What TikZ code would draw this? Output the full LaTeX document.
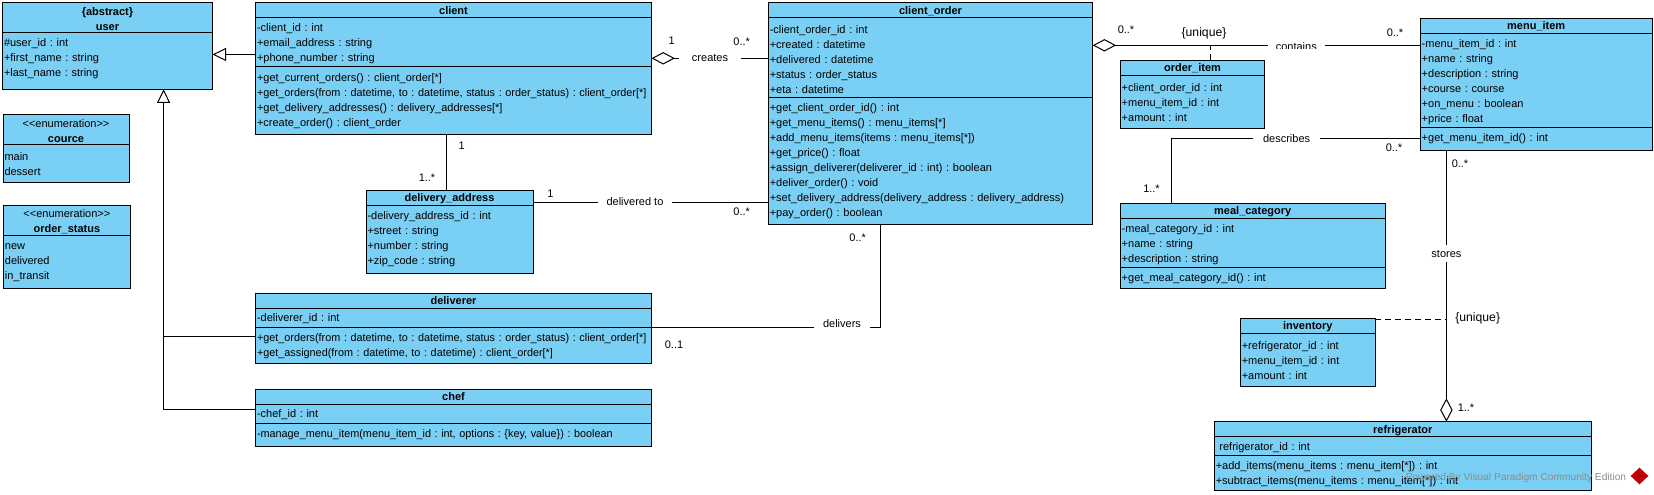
\documentclass[tikz,border=0pt]{standalone}
\usepackage{fontspec}
\usepackage{graphicx}
\setmainfont{Liberation Sans}
\usetikzlibrary{positioning}
\usetikzlibrary{arrows.meta}
\usetikzlibrary{shapes.geometric}
\definecolor{classblue}{HTML}{7ACFF5}
\newcommand{\rowstrut}{\rule[-1.75pt]{0pt}{7.5pt}}
\newcommand{\rowpad}[1]{\par\vspace{#1}\hrule height 0pt}
\newcommand{\tightrow}[1]{\scalebox{0.985}[1]{#1}}
\tikzset{
  classtitle/.style={rectangle,fill=classblue,draw=black,line width=0.5pt,outer sep=0pt,
    inner sep=0pt,anchor=north west,minimum width=#1,text width=#1,align=center,
    font=\fontsize{5.5}{7.5}\selectfont\frenchspacing,execute at begin node=\rowstrut},
  classrows/.style={rectangle,fill=classblue,draw=black,line width=0.5pt,outer sep=0pt,
    inner xsep=0.75pt,inner ysep=0pt,minimum width=#1,text width=#1-1.5pt,align=left,
    font=\fontsize{5.5}{7.5}\selectfont\frenchspacing,execute at begin node=\rowstrut},
  assoc/.style={inner xsep=4.5pt,inner ysep=0pt,minimum height=8pt,font=\fontsize{5.5}{7.5}\selectfont},
  mult/.style={inner sep=0pt,font=\fontsize{5.5}{7.5}\selectfont},
  constraint/.style={inner sep=0pt,font=\fontsize{6.1}{7.5}\selectfont},
  line/.style={line width=0.5pt,draw=black},
  generalize/.style={line,-{Triangle[open,length=6.75pt,width=6.5pt]}},
  aggregate/.style={line,-{Diamond[open,length=11.7pt,width=6.2pt]}},
  attached/.style={line,dash pattern=on 3pt off 2pt},
}
\begin{document}
\begin{tikzpicture}[x=0.5pt,y=-0.5pt]
\useasboundingbox (0,0) rectangle (1654,494);

% left column
\node[classtitle=105pt,minimum height=15pt] (user) at (2.5,2.3) {\textbf{\{abstract\}}\\\textbf{user}};
\node[classrows=105pt,minimum height=28.5pt,below=0pt of user] (userattr) {\#user\_id : int\\+first\_name : string\\+last\_name : string\rowpad{3.5pt}};

\node[classtitle=63pt,minimum height=15.2pt] (cource) at (3,114) {<{}<enumeration>{}>\\\textbf{cource}};
\node[classrows=63pt,minimum height=18.8pt,below=0pt of cource] (courceattr) {main\\dessert\rowpad{1.3pt}};

\node[classtitle=63.5pt,minimum height=15pt] (orderstatus) at (3.4,205) {<{}<enumeration>{}>\\\textbf{order\_status}};
\node[classrows=63.5pt,minimum height=26.7pt,below=0pt of orderstatus] (orderstatusattr) {new\\delivered\\in\_transit\rowpad{1.6pt}};

% client side
\node[classtitle=198pt,minimum height=7.5pt] (client) at (255.5,2.7) {\textbf{client}};
\node[classrows=198pt,minimum height=24.35pt,below=0pt of client] (clientattr) {-client\_id : int\\+email\_address : string\\+phone\_number : string};
\node[classrows=198pt,minimum height=33.85pt,below=0pt of clientattr] (clientop) {+get\_current\_orders() : client\_order[*]\\\tightrow{+get\_orders(from : datetime, to : datetime, status : order\_status) : client\_order[*]}\\+get\_delivery\_addresses() : delivery\_addresses[*]\\+create\_order() : client\_order\rowpad{1pt}};

\node[classtitle=83.5pt,minimum height=7.5pt] (address) at (366,190) {\textbf{delivery\_address}};
\node[classrows=83.5pt,minimum height=34pt,below=0pt of address] (addressattr) {-delivery\_address\_id : int\\+street : string\\+number : string\\+zip\_code : string\rowpad{1.5pt}};

\node[classtitle=198pt,minimum height=7.5pt] (deliverer) at (255.5,293.3) {\textbf{deliverer}};
\node[classrows=198pt,minimum height=9.5pt,below=0pt of deliverer] (delivererattr) {-deliverer\_id : int};
\node[classrows=198pt,minimum height=18pt,below=0pt of delivererattr] (delivererop) {\tightrow{+get\_orders(from : datetime, to : datetime, status : order\_status) : client\_order[*]}\\\tightrow{+get\_assigned(from : datetime, to : datetime) : client\_order[*]}\rowpad{0.5pt}};

\node[classtitle=198pt,minimum height=7.5pt] (chef) at (255.5,389.3) {\textbf{chef}};
\node[classrows=198pt,minimum height=9.5pt,below=0pt of chef] (chefattr) {-chef\_id : int};
\node[classrows=198pt,minimum height=11.5pt,below=0pt of chefattr] (chefop) {\tightrow{-manage\_menu\_item(menu\_item\_id : int, options : \{key, value\}) : boolean}\rowpad{1.5pt}};

% order in the middle
\node[classtitle=162.2pt,minimum height=7.5pt] (order) at (768.3,2.7) {\textbf{client\_order}};
\node[classrows=162.2pt,minimum height=39.7pt,below=0pt of order] (orderattr) {-client\_order\_id : int\\+created : datetime\\+delivered : datetime\\+status : order\_status\\+eta : datetime};
\node[classrows=162.2pt,minimum height=63.8pt,below=0pt of orderattr] (orderop) {+get\_client\_order\_id() : int\\+get\_menu\_items() : menu\_items[*]\\+add\_menu\_items(items : menu\_items[*])\\+get\_price() : float\\+assign\_deliverer(deliverer\_id : int) : boolean\\+deliver\_order() : void\\+set\_delivery\_address(delivery\_address : delivery\_address)\\+pay\_order() : boolean\rowpad{1.6pt}};

% right side
\node[classtitle=72.3pt,minimum height=7.5pt] (orderitem) at (1120.2,60.3) {\textbf{order\_item}};
\node[classrows=72.3pt,minimum height=26.5pt,below=0pt of orderitem] (orderitemattr) {+client\_order\_id : int\\+menu\_item\_id : int\\+amount : int\rowpad{1.5pt}};

\node[classtitle=116pt,minimum height=7.5pt] (menu) at (1420.2,18.3) {\textbf{menu\_item}};
\node[classrows=116pt,minimum height=47pt,below=0pt of menu] (menuattr) {-menu\_item\_id : int\\+name : string\\+description : string\\+course : course\\+on\_menu : boolean\\+price : float};
\node[classrows=116pt,minimum height=11.5pt,below=0pt of menuattr] (menuop) {+get\_menu\_item\_id() : int\rowpad{1.5pt}};

\node[classtitle=132.5pt,minimum height=7.5pt] (category) at (1120.2,203.3) {\textbf{meal\_category}};
\node[classrows=132.5pt,minimum height=24.5pt,below=0pt of category] (categoryattr) {-meal\_category\_id : int\\+name : string\\+description : string};
\node[classrows=132.5pt,minimum height=10.5pt,below=0pt of categoryattr] (categoryop) {+get\_meal\_category\_id() : int\rowpad{0.5pt}};

\node[classtitle=67.5pt,minimum height=7.5pt] (inventory) at (1240.3,318.3) {\textbf{inventory}};
\node[classrows=67.5pt,minimum height=26.5pt,below=0pt of inventory] (inventoryattr) {+refrigerator\_id : int\\+menu\_item\_id : int\\+amount : int\rowpad{1.5pt}};

\node[classtitle=188.5pt,minimum height=7.5pt] (fridge) at (1214.3,421.7) {\textbf{refrigerator}};
\node[classrows=188.5pt,minimum height=9.3pt,below=0pt of fridge] (fridgeattr) {\hspace{1.8pt}refrigerator\_id : int};
\node[classrows=188.5pt,minimum height=17.5pt,below=0pt of fridgeattr] (fridgeop) {+add\_items(menu\_items : menu\_item[*]) : int\\+subtract\_items(menu\_items : menu\_item[*]) : int};

% association names
\node[assoc,inner xsep=6.5pt] (creates) at (710,58.3) {creates};
\node[assoc,inner xsep=4pt] (deliveredto) at (635,202) {delivered to};
\node[assoc,text depth=3.3pt] (delivers) at (842,327.3) {delivers};
\node[assoc,inner xsep=4.7pt] (describes) at (1286.6,138.3) {describes};
\node[assoc,inner xsep=0pt] (stores) at (1446.4,253.7) {stores};
\begin{scope}
\clip (1260,30) rectangle (1335,48.3);
\node[assoc,inner xsep=3.75pt,text height=5.7pt] (contains) at (1296.3,45.3) {contains};
\end{scope}

% connectors
\coordinate (clientport) at ([yshift=-6.2pt]clientattr.west);
\draw[generalize] (clientport) -- (clientport -| userattr.east);
\coordinate (usertip) at ([xshift=28.05pt]userattr.south);
\coordinate (chefport) at ([yshift=2.25pt]chefattr.west);
\coordinate (delivererport) at ([yshift=4.5pt]delivererop.west);
\draw[generalize] (chefport) -| (usertip);
\draw[line] (delivererport) -- (delivererport -| usertip);

\draw[aggregate] (creates) -- (clientattr.east |- creates);
\draw[line] (creates) -- (orderattr.west |- creates);

\coordinate (addresstop) at ([xshift=-1.5pt]address.north);
\draw[line] (clientop.south -| addresstop) -- (addresstop);
\draw[line] (addressattr.east |- deliveredto) -- (deliveredto);
\draw[line] (deliveredto) -- (orderop.west |- deliveredto);

\coordinate (orderfoot) at ([xshift=-25.05pt]orderop.south);
\draw[line] (delivererop.north east) -- (delivers);
\draw[line] (delivers) -| (orderfoot);

\coordinate (containsline) at (orderattr.east |- contains);
\draw[aggregate] (contains) -- (containsline);
\draw[line] (contains) -- (menuattr.west |- contains);
\coordinate (orderitemtop) at ([xshift=9.05pt]orderitem.north);
\draw[attached] (orderitemtop) -- (orderitemtop |- contains);

\coordinate (categorytop) at ([xshift=-40.7pt]category.north);
\draw[line] (menuattr.west |- describes) -- (describes);
\draw[line] (describes) -| (categorytop);

\draw[line] (stores |- menuop.south) -- (stores);
\draw[aggregate] (stores) -- (stores |- fridge.north);
\coordinate (inventoryport) at (inventory.north east);
\draw[attached] ([yshift=-0.5pt]inventoryport) -- ([yshift=-0.5pt]inventoryport -| stores);

% multiplicities
\node[mult] (m1) at (671.7,41) {1};
\node[mult] (m2) at (741.7,42) {0..*};
\node[mult] (m3) at (461.7,146) {1};
\node[mult] (m4) at (427,178) {1..*};
\node[mult] (m5) at (550.5,194) {1};
\node[mult] (m6) at (741.7,212) {0..*};
\node[mult] (m7) at (674,344.7) {0..1};
\node[mult] (m8) at (857.7,238) {0..*};
\node[mult] (m9) at (1126,30) {0..*};
\node[mult] (m10) at (1395,33) {0..*};
\node[mult] (m11) at (1394,148) {0..*};
\node[mult] (m12) at (1151.5,188.7) {1..*};
\node[mult] (m13) at (1460,164) {0..*};
\node[mult] (m14) at (1466,407.3) {1..*};
\node[constraint] (unique1) at (1204,33) {\{unique\}};
\node[constraint] (unique2) at (1477.7,318) {\{unique\}};

% tool mark
\node[inner sep=0pt,text=black!45,font=\fontsize{5.1}{6}\selectfont] (powered) at (1516,477.7) {Powered By Visual Paradigm Community Edition};
\node[diamond,fill=red!75!black,inner sep=0pt,minimum width=9pt,minimum height=8.5pt] (vplogo) at (1639.5,476) {};

\end{tikzpicture}
\end{document}
